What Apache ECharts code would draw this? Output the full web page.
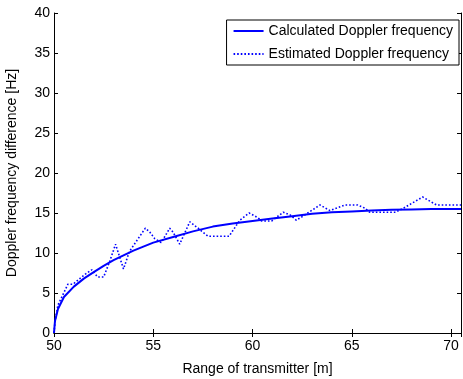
<!DOCTYPE html>
<html><head><meta charset="utf-8">
<script src="https://cdn.jsdelivr.net/npm/echarts@6/dist/echarts.min.js"></script>
<style>html,body{margin:0;padding:0;background:#fff}#c{width:463px;height:379px}</style>
</head><body><div id="c"></div>
<script>
const calcX = [50, 50.05, 50.2, 50.5, 51, 51.5, 52, 52.5, 53, 53.5, 54, 54.5, 55, 56, 57, 58, 59, 60, 61, 62, 63, 64, 65, 66, 67, 68, 69, 70, 70.5];
const calcY = [0, 1.5, 3, 4.5, 5.8, 6.8, 7.6, 8.4, 9.1, 9.7, 10.3, 10.8, 11.3, 12.0, 12.7, 13.3, 13.7, 14.0, 14.3, 14.6, 14.9, 15.1, 15.2, 15.3, 15.4, 15.45, 15.5, 15.5, 15.5];
const estX = [50, 50.05, 50.2, 50.45, 50.7, 50.96, 51.3, 51.6, 51.9, 52.2, 52.5, 52.8, 53.1, 53.5, 53.8, 54.6, 54.83, 55.07, 55.4, 55.83, 56.0, 56.33, 56.84, 57.26, 57.76, 58.82, 59.36, 59.83, 60.28, 60.45, 60.96, 61.55, 61.9, 62.2, 62.47, 63.4, 63.9, 64.65, 65.3, 65.66, 65.9, 67.2, 67.6, 68.57, 69.27, 70.5];
const estY = [0, 1.4, 3.5, 4.8, 6.1, 6.1, 6.8, 7.4, 7.9, 7.0, 7.0, 8.9, 11.1, 8.0, 10.2, 13.1, 12.6, 11.8, 11.3, 13.1, 12.6, 11.1, 13.9, 13.1, 12.1, 12.1, 14.1, 15.0, 14.4, 14.0, 14.0, 15.1, 14.75, 14.1, 14.5, 16.0, 15.3, 16.0, 16.0, 15.6, 15.1, 15.1, 15.6, 17.0, 16.0, 16.0];
const seriesNames = ['Calculated Doppler frequency', 'Estimated Doppler frequency'];
const xName = 'Range of transmitter [m]';
const yName = 'Doppler frequency difference [Hz]';

const FONT = 'Liberation Sans, Arial, sans-serif';
const chart = echarts.init(document.getElementById('c'), null, {renderer: 'canvas'});
const axisLine = {show: true, lineStyle: {color: '#000', width: 1}};
const tick = {show: true, inside: true, length: 4, lineStyle: {color: '#000'}};
chart.setOption({
  animation: false,
  backgroundColor: '#fff',
  grid: {left: 54, top: 13, right: 2, bottom: 46, containLabel: false, outerBoundsMode: 'none'},
  legend: {
    orient: 'vertical', right: 4, top: 20,
    backgroundColor: '#fff', borderColor: '#000', borderWidth: 1, borderRadius: 0,
    padding: [4, 6, 4, 6], itemGap: 9, itemWidth: 30, itemHeight: 14,
    itemStyle: {opacity: 0},
    textStyle: {fontFamily: FONT, fontSize: 14, color: '#000'},
    data: seriesNames
  },
  xAxis: [{
    type: 'value', min: 50, max: 70.5, interval: 5,
    name: xName, nameLocation: 'middle', nameGap: 29,
    nameTextStyle: {fontFamily: FONT, fontSize: 14, color: '#000'},
    axisLine: axisLine, axisTick: tick, splitLine: {show: false},
    axisLabel: {fontFamily: FONT, fontSize: 14, color: '#000', margin: 6, showMaxLabel: false}
  }, {
    type: 'value', min: 50, max: 70.5, interval: 5, position: 'top',
    axisLine: axisLine, axisTick: tick, splitLine: {show: false},
    axisLabel: {show: false}
  }],
  yAxis: [{
    type: 'value', min: 0, max: 40, interval: 5,
    name: yName, nameLocation: 'middle', nameGap: 35,
    nameTextStyle: {fontFamily: FONT, fontSize: 14, color: '#000'},
    axisLine: axisLine, axisTick: tick, splitLine: {show: false},
    axisLabel: {fontFamily: FONT, fontSize: 14, color: '#000', margin: 4}
  }, {
    type: 'value', min: 0, max: 40, interval: 5, position: 'right',
    axisLine: axisLine, axisTick: tick, splitLine: {show: false},
    axisLabel: {show: false}
  }],
  series: [{
    name: seriesNames[0], type: 'line', showSymbol: false, symbol: 'none',
    data: calcX.map((x, i) => [x, calcY[i]]),
    lineStyle: {color: '#0000ff', width: 2, type: 'solid'},
    itemStyle: {color: '#0000ff'}, smooth: false
  }, {
    name: seriesNames[1], type: 'line', showSymbol: false, symbol: 'none',
    data: estX.map((x, i) => [x, estY[i]]),
    lineStyle: {color: '#0000ff', width: 1.6, type: [1.6, 2]},
    itemStyle: {color: '#0000ff'}
  }]
});
</script></body></html>
